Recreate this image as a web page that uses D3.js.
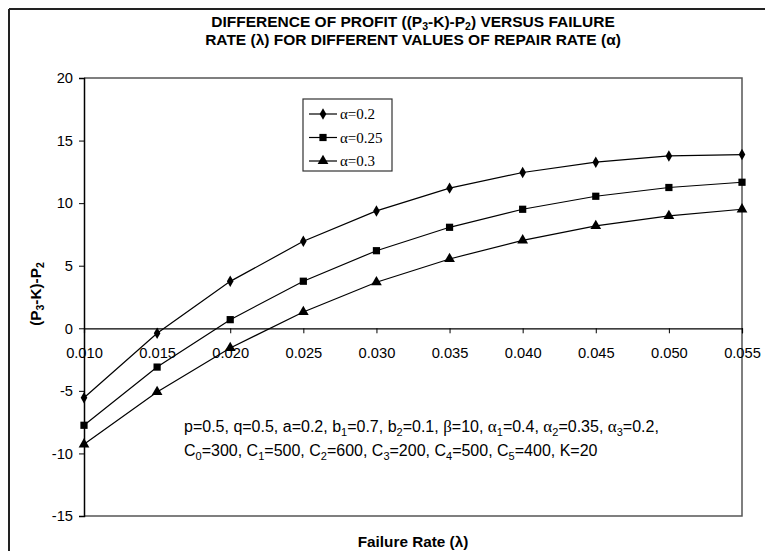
<!DOCTYPE html>
<html>
<head>
<meta charset="utf-8">
<script src="https://cdn.jsdelivr.net/npm/d3@7"></script>
<style>
  body { margin: 0; background: #fff; }
  svg { display: block; }
  .axis text { font-family: "Liberation Sans", Arial, sans-serif; font-size: 14.7px; fill: #000; }
</style>
</head>
<body>
<div id="chart"></div>
<script>
// failure rate values on the x axis
const failureRates = [0.010, 0.015, 0.020, 0.025, 0.030, 0.035, 0.040, 0.045, 0.050, 0.055];
// (P3-K)-P2 for each repair rate
const alpha020 = [-5.55, -0.4, 3.75, 6.95, 9.38, 11.2, 12.45, 13.27, 13.77, 13.88];
const alpha025 = [-7.75, -3.1, 0.69, 3.76, 6.2, 8.07, 9.51, 10.55, 11.25, 11.67];
const alpha030 = [-9.27, -5.09, -1.57, 1.3, 3.68, 5.54, 7.03, 8.18, 8.98, 9.51];
const seriesNames = ["α=0.2", "α=0.25", "α=0.3"];
const yTicks = [-15, -10, -5, 0, 5, 10, 15, 20];
const xTicks = failureRates;

const width = 765, height = 551;
const margin = {top: 78, right: 23, bottom: 35, left: 84};

const svg = d3.select("#chart").append("svg")
    .attr("width", width)
    .attr("height", height);

// page frame (only top and left edges are visible)
svg.append("line").attr("x1", 9).attr("x2", width).attr("y1", 9).attr("y2", 9)
    .attr("stroke", "#222").attr("stroke-width", 2);
svg.append("line").attr("x1", 9).attr("x2", 9).attr("y1", 9).attr("y2", height)
    .attr("stroke", "#222").attr("stroke-width", 2);

const xScale = d3.scaleLinear().domain([0.010, 0.055]).range([margin.left, width - margin.right - 0]);
const yScale = d3.scaleLinear().domain([-15, 20]).range([height - margin.bottom, margin.top]);

// plot frame
const [x0, x1] = xScale.range();
const [yb, yt] = yScale.range();
svg.append("path")
    .attr("d", `M${x0},${yt}H${x1}V${yb}H${x0}`)
    .attr("fill", "none")
    .attr("stroke", "#555")
    .attr("stroke-width", 1.5);

// y axis
const yAxisG = svg.append("g")
    .attr("class", "axis")
    .attr("transform", `translate(${x0},0)`)
    .call(d3.axisLeft(yScale).tickValues(yTicks).tickSize(5).tickPadding(6).tickFormat(d => String(d)));
yAxisG.select(".domain").attr("stroke", "#000").attr("stroke-width", 1.5);
yAxisG.selectAll(".tick line").attr("stroke", "#000");

// x axis crossing at zero
const xAxisG = svg.append("g")
    .attr("class", "axis")
    .attr("transform", `translate(0,${yScale(0)})`)
    .call(d3.axisBottom(xScale).tickValues(xTicks).tickSize(5).tickPadding(14).tickFormat(d3.format(".3f")));
xAxisG.select(".domain").attr("stroke", "#000").attr("stroke-width", 1.2);
xAxisG.selectAll(".tick line").attr("stroke", "#000");

// lines and markers
const series = [alpha020, alpha025, alpha030];
const symbols = [d3.symbolDiamond, d3.symbolSquare, d3.symbolTriangle];
const symbolSizes = [38, 52, 50];

const line = d3.line()
    .x((d, i) => xScale(failureRates[i]))
    .y(d => yScale(d));

series.forEach((values, k) => {
    svg.append("path")
        .datum(values)
        .attr("d", line)
        .attr("fill", "none")
        .attr("stroke", "#000")
        .attr("stroke-width", 1.2);
    svg.append("g").selectAll("path")
        .data(values)
        .join("path")
        .attr("d", d3.symbol().type(symbols[k]).size(symbolSizes[k]))
        .attr("transform", (d, i) => `translate(${xScale(failureRates[i])},${yScale(d)})`)
        .attr("fill", "#000");
});

// legend
const legend = svg.append("g").attr("transform", "translate(303,99)");
legend.append("rect")
    .attr("width", 89).attr("height", 72)
    .attr("fill", "#fff").attr("stroke", "#333").attr("stroke-width", 1.2);
seriesNames.forEach((name, k) => {
    const yy = 15 + k * 23.5;
    legend.append("line").attr("x1", 6).attr("x2", 34).attr("y1", yy).attr("y2", yy)
        .attr("stroke", "#000").attr("stroke-width", 1.2);
    legend.append("path")
        .attr("d", d3.symbol().type(symbols[k]).size(symbolSizes[k]))
        .attr("transform", `translate(20,${yy})`)
        .attr("fill", "#000");
    legend.append("text")
        .attr("x", 37).attr("y", yy + 5)
        .style("font-family", "'Liberation Serif', 'Times New Roman', serif")
        .style("font-size", "15px")
        .text(name);
});

// title
const sans = "'Liberation Sans', Arial, sans-serif";
const serif = "'Liberation Serif', 'Times New Roman', serif";
const title = svg.append("text")
    .attr("text-anchor", "middle")
    .style("font-family", sans)
    .style("font-size", "15.5px")
    .style("font-weight", "bold");
const t1 = title.append("tspan").attr("x", 413).attr("y", 27);
t1.append("tspan").text("DIFFERENCE OF PROFIT ((P");
t1.append("tspan").attr("font-size", "10.5px").attr("dy", 3).text("3");
t1.append("tspan").attr("dy", -3).text("-K)-P");
t1.append("tspan").attr("font-size", "10.5px").attr("dy", 3).text("2");
t1.append("tspan").attr("dy", -3).text(") VERSUS FAILURE");
title.append("tspan").attr("x", 413).attr("y", 45)
    .text("RATE (λ) FOR DIFFERENT VALUES OF REPAIR RATE (α)");

// axis titles
svg.append("text")
    .attr("x", 413).attr("y", 547)
    .attr("text-anchor", "middle")
    .style("font-family", sans).style("font-size", "15.3px").style("font-weight", "bold")
    .text("Failure Rate (λ)");

const ylab = svg.append("text")
    .attr("transform", "translate(41,294) rotate(-90)")
    .attr("text-anchor", "middle")
    .style("font-family", sans).style("font-size", "15.3px").style("font-weight", "bold");
ylab.append("tspan").text("(P");
ylab.append("tspan").attr("font-size", "10.5px").attr("dy", 3).text("3");
ylab.append("tspan").attr("dy", -3).text("-K)-P");
ylab.append("tspan").attr("font-size", "10.5px").attr("dy", 3).text("2");

// parameter note
function writeNote(parts, x, y) {
    const t = svg.append("text").attr("x", x).attr("y", y)
        .style("font-family", sans).style("font-size", "16px");
    let shift = 0;
    parts.forEach(p => {
        const s = t.append("tspan");
        if (p.sub) {
            s.attr("font-size", "11px").attr("dy", 4 - shift);
            shift = 4;
        } else if (shift) {
            s.attr("dy", -shift);
            shift = 0;
        }
        if (p.greek) s.style("font-family", serif).attr("font-size", "17px");
        s.text(p.t);
    });
}
writeNote([
    {t: "p=0.5, q=0.5, a=0.2, b"}, {t: "1", sub: true}, {t: "=0.7, b"}, {t: "2", sub: true},
    {t: "=0.1, "}, {t: "β", greek: true}, {t: "=10, "}, {t: "α", greek: true}, {t: "1", sub: true},
    {t: "=0.4, "}, {t: "α", greek: true}, {t: "2", sub: true}, {t: "=0.35, "},
    {t: "α", greek: true}, {t: "3", sub: true}, {t: "=0.2,"}
], 184, 432);
writeNote([
    {t: "C"}, {t: "0", sub: true}, {t: "=300, C"}, {t: "1", sub: true}, {t: "=500, C"}, {t: "2", sub: true},
    {t: "=600, C"}, {t: "3", sub: true}, {t: "=200, C"}, {t: "4", sub: true}, {t: "=500, C"},
    {t: "5", sub: true}, {t: "=400, K=20"}
], 184, 456);
</script>
</body>
</html>
